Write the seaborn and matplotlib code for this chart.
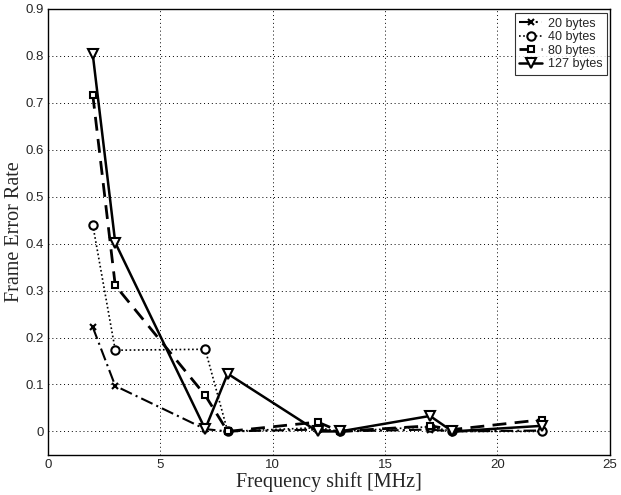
import matplotlib
matplotlib.use("Agg")
import matplotlib.pyplot as plt
import seaborn as sns
import pandas as pd

freq = [2, 3, 7, 8, 12, 13, 17, 18, 22]
fer_20 = [0.222, 0.097, 0.005, 0.0, 0.004, 0.0, 0.004, 0.0, 0.002]
fer_40 = [0.440, 0.173, 0.175, 0.0, 0.008, 0.0, 0.010, 0.0, 0.0]
fer_80 = [0.717, 0.311, 0.077, 0.0, 0.020, 0.0, 0.012, 0.004, 0.025]
fer_127 = [0.803, 0.402, 0.005, 0.123, 0.0, 0.0, 0.033, 0.0, 0.012]
labels = ["20 bytes", "40 bytes", "80 bytes", "127 bytes"]

sns.set_style("white")
plt.rcParams['font.family'] = ['Liberation Sans', 'DejaVu Sans']

df = pd.concat([
    pd.DataFrame({"freq": freq, "fer": v, "series": lab})
    for v, lab in zip([fer_20, fer_40, fer_80, fer_127], labels)
])

fig = plt.figure(figsize=(6.21, 4.95), dpi=100)
ax = fig.add_axes([0.077, 0.081, 0.905, 0.901])

styles = {
    "20 bytes": dict(ls=(0, (6, 2, 1, 2)), marker="x", ms=4, lw=1.5),
    "40 bytes": dict(ls=(0, (1, 1.5)), marker="o", ms=6, lw=1.2),
    "80 bytes": dict(ls=(0, (5, 3)), marker="s", ms=5, lw=2.0),
    "127 bytes": dict(ls="-", marker="v", ms=6.5, lw=1.8),
}
for lab in labels:
    st = styles[lab]
    sns.lineplot(data=df[df.series == lab], x="freq", y="fer", ax=ax,
                 color="black", linestyle=st["ls"], marker=st["marker"],
                 markersize=st["ms"], linewidth=st["lw"],
                 markerfacecolor="white", markeredgecolor="black",
                 markeredgewidth=1.5, label=lab)

ax.set_xlim(0, 25)
ax.set_ylim(-0.05, 0.9)
ax.set_xticks([0, 5, 10, 15, 20, 25])
ax.set_yticks([0, 0.1, 0.2, 0.3, 0.4, 0.5, 0.6, 0.7, 0.8, 0.9])
ax.set_yticklabels(["0", "0.1", "0.2", "0.3", "0.4", "0.5", "0.6", "0.7", "0.8", "0.9"])
ax.tick_params(direction="in", labelsize=9.5, length=4, pad=3)
ax.grid(True, linestyle=(0, (1, 3)), color="black", linewidth=0.7)
for s in ax.spines.values():
    s.set_color("black")
    s.set_linewidth(1.0)

ax.set_xlabel("Frequency shift [MHz]", family=["Liberation Serif"], fontsize=14.5, labelpad=1)
ax.set_ylabel("Frame Error Rate", family=["Liberation Serif"], fontsize=14.5, labelpad=1)

leg = ax.legend(loc="upper right", fontsize=9, frameon=True, fancybox=False,
                edgecolor="black", handlelength=1.8, handletextpad=0.5,
                borderpad=0.35, labelspacing=0.12, borderaxespad=0,
                bbox_to_anchor=(0.995, 0.99))
leg.get_frame().set_linewidth(0.8)

fig.savefig("out.png", dpi=100)
